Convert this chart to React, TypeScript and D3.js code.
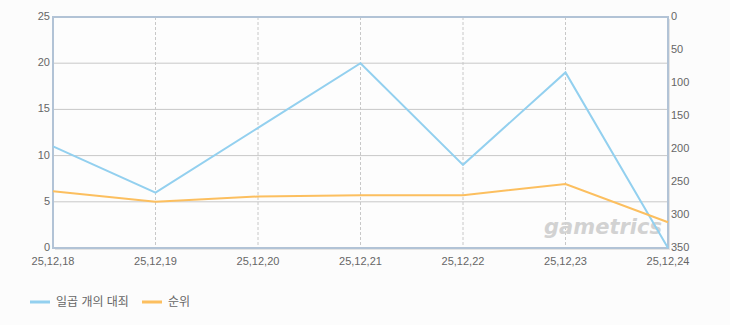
import React from "react";
import * as d3 from "d3";

const categories = ["25,12,18", "25,12,19", "25,12,20", "25,12,21", "25,12,22", "25,12,23", "25,12,24"];
const seriesCount = [11, 6, 13, 20, 9, 19, 0];
const seriesRank = [264, 280, 272, 270, 270, 253, 311];
const leftTicks = [0, 5, 10, 15, 20, 25];
const rightTicks = [0, 50, 100, 150, 200, 250, 300, 350];
const seriesNames = ["일곱 개의 대죄", "순위"];

const W = 730, H = 325;
const L = 53, R = 668, T = 17, B = 248;
const font = "'Liberation Sans', 'Noto Sans CJK KR', sans-serif";

export default function App() {
  const x = d3.scalePoint<string>().domain(categories).range([L, R]);
  const yL = d3.scaleLinear().domain([0, 25]).range([B, T]);
  const yR = d3.scaleLinear().domain([0, 350]).range([T, B]);
  const lineL = d3.line<number>().x((_, i) => x(categories[i])!).y((d) => yL(d));
  const lineR = d3.line<number>().x((_, i) => x(categories[i])!).y((d) => yR(d));
  return (
    <svg width={W} height={H} style={{ position: "absolute", left: 0, top: 0, background: "#fcfcfc" }}>
      <rect x={0} y={0} width={W} height={H} fill="#fcfcfc" />
      <rect x={L + 2} y={T + 2} width={R - L} height={B - T} fill="#e4e4e4" />
      <rect x={L} y={T} width={R - L} height={B - T} fill="#fdfdfd" />
      {leftTicks.map((t) => (
        <line key={"h" + t} x1={L} x2={R} y1={yL(t)} y2={yL(t)} stroke="#c8c8c8" strokeWidth={1} />
      ))}
      {categories.map((c) => (
        <line key={"v" + c} x1={x(c)} x2={x(c)} y1={T} y2={B} stroke="#c8c8c8" strokeWidth={1} strokeDasharray="3,2" />
      ))}
      <text x={603} y={234} fontFamily="'DejaVu Sans', sans-serif" fontSize={21} fontWeight="bold" fontStyle="italic" fill="#d2d2d2" textAnchor="middle">gametrics</text>
      <rect x={L} y={T} width={R - L} height={B - T} fill="none" stroke="#b2c3d6" strokeWidth={2} />
      <path d={lineL(seriesCount)!} fill="none" stroke="#93d0ef" strokeWidth={2} />
      <path d={lineR(seriesRank)!} fill="none" stroke="#fcbf5f" strokeWidth={2} />
      {leftTicks.map((t) => (
        <text key={"l" + t} x={L - 3} y={yL(t) + 3} textAnchor="end" fontFamily={font} fontSize={11} fill="#666">{t}</text>
      ))}
      {rightTicks.map((t) => (
        <text key={"r" + t} x={R + 3} y={yR(t) + 3} textAnchor="start" fontFamily={font} fontSize={11} fill="#666">{t}</text>
      ))}
      {categories.map((c) => (
        <text key={"x" + c} x={x(c)} y={265} textAnchor="middle" fontFamily={font} fontSize={11} fill="#666">{c}</text>
      ))}
      <g>
        <line x1={30} x2={50} y1={302} y2={302} stroke="#93d0ef" strokeWidth={3} />
        <text x={56} y={306} fontFamily={font} fontSize={12} fill="#666">{seriesNames[0]}</text>
        <line x1={142} x2={162} y1={302} y2={302} stroke="#fcbf5f" strokeWidth={3} />
        <text x={168} y={306} fontFamily={font} fontSize={12} fill="#666">{seriesNames[1]}</text>
      </g>
    </svg>
  );
}
